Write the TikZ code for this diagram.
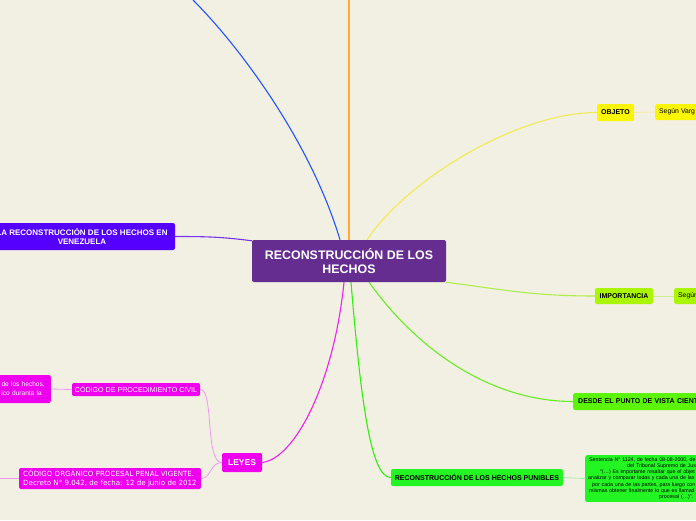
\documentclass[tikz,border=0pt]{standalone}
\usepackage{fontspec}
\setmainfont{Liberation Sans}
\newfontfamily\fuenteVerdana{DejaVu Sans}
\usetikzlibrary{
    backgrounds
}
\definecolor{Fondo}{HTML}{F2EFE3}
\definecolor{Morado}{HTML}{662D91}
\definecolor{Violeta}{HTML}{5500FF}
\definecolor{VioletaLinea}{HTML}{7733EE}
\definecolor{Azul}{HTML}{2255FF}
\definecolor{Naranja}{HTML}{FFA833}
\definecolor{Amarillo}{HTML}{FAF500}
\definecolor{AmarilloLinea}{HTML}{F0EC50}
\definecolor{AmarilloSuave}{HTML}{F2EEA0}
\definecolor{Lima}{HTML}{AAF500}
\definecolor{LimaLinea}{HTML}{AEEE4A}
\definecolor{LimaSuave}{HTML}{CCEE90}
\definecolor{VerdeClaro}{HTML}{5CF50A}
\definecolor{VerdeClaroLinea}{HTML}{66EE22}
\definecolor{Verde}{HTML}{22F522}
\definecolor{VerdeLinea}{HTML}{33EE11}
\definecolor{VerdeSuave}{HTML}{AAEEAA}
\definecolor{Magenta}{HTML}{EE00EE}
\definecolor{MagentaLinea}{HTML}{EE22EE}
\definecolor{MagentaSuave}{HTML}{EE99EE}

\tikzset{
    caja/.style={
        rounded corners=2pt,
        inner sep=0pt,
        align=center,
        text=black,
        font=\bfseries\fontsize{7}{8}\selectfont
    },
    hoja/.style={
        rounded corners=2pt,
        inner xsep=4pt,
        inner ysep=0pt,
        align=left,
        text=black,
        font=\fontsize{6.8}{8}\selectfont
    },
    rama/.style={line width=1.1pt},
    ramita/.style={line width=0.8pt}
}

\begin{document}
\begin{tikzpicture}[x=1pt,y=-1pt]

    \useasboundingbox (0,0) rectangle (696,520);
    \clip (0,0) rectangle (696,520);

    \node[
        caja,
        fill=Morado,
        text=white,
        minimum width=194pt,
        minimum height=42pt,
        font=\bfseries\fontsize{12.4}{14.5}\selectfont
    ] (hechos) at (349,261) {RECONSTRUCCIÓN DE LOS\\HECHOS};

    \node[
        caja,
        fill=Violeta,
        text=white,
        minimum width=186pt,
        minimum height=27pt,
        font=\bfseries\fontsize{8}{9.5}\selectfont
    ] (venezuela) at (82,236.5) {LA RECONSTRUCCIÓN DE LOS HECHOS EN\\VENEZUELA};

    \node[caja, fill=Amarillo, minimum width=37pt, minimum height=17pt] (objeto) at (615.5,112.5) {OBJETO};
    \node[hoja, fill=Amarillo, anchor=west, text width=52pt, minimum height=16pt] (objetoTexto) at (655,112) {Según Varg};

    \node[caja, fill=Lima, minimum width=58pt, minimum height=16pt] (importancia) at (624,296) {IMPORTANCIA};
    \node[hoja, fill=Lima, anchor=west, text width=40pt, minimum height=16pt] (importanciaTexto) at (674,296) {Según};

    \node[
        caja,
        fill=VerdeClaro,
        anchor=west,
        inner xsep=5pt,
        text width=140pt,
        align=left,
        minimum height=17pt
    ] (cientifico) at (573,401.5) {DESDE EL PUNTO DE VISTA CIENT};

    \node[caja, fill=Verde, minimum width=172pt, minimum height=17pt] (punibles) at (477,477.5) {RECONSTRUCCIÓN DE LOS HECHOS PUNIBLES};

    \node[
        hoja,
        fill=Verde,
        anchor=north west,
        inner xsep=3pt,
        inner ysep=2pt,
        text width=150pt,
        minimum height=46pt,
        font=\fontsize{5.3}{6.3}\selectfont
    ] (sentencia) at (585,455) {
        \hspace*{1pt}Sentencia N° 1124, de fecha 08-08-2000, de\\
        \hspace*{39pt}del Tribunal Supremo de Jus\\
        \hspace*{12pt}“(…) Es importante resaltar que el objet\\
        analizar y comparar todas y cada una de las\\
        \hspace*{4pt}por cada una de las partes, para luego con\\
        \hspace*{1pt}mismas obtener finalmente lo que es llamad\\
        \hspace*{71pt}procesal (…)”.
    };

    \node[
        caja,
        fill=Magenta,
        text=white,
        minimum width=40pt,
        minimum height=19pt,
        font=\bfseries\fontsize{8.5}{10}\selectfont
    ] (leyes) at (242,462.5) {LEYES};

    \node[
        caja,
        fill=Magenta,
        text=white,
        minimum width=128pt,
        minimum height=13pt,
        font=\fontsize{7.1}{8}\selectfont
    ] (civil) at (136,389.5) {CÓDIGO DE PROCEDIMIENTO CIVIL};

    \node[
        hoja,
        fill=Magenta,
        text=white,
        anchor=east,
        inner xsep=6pt,
        text width=80pt,
        align=right,
        minimum height=28pt,
        font=\fontsize{6.6}{9}\selectfont
    ] (civilTexto) at (51,389) {de los hechos,\\ico durante la\hspace*{3pt}};

    \node[
        caja,
        fill=Magenta,
        text=white,
        minimum width=182pt,
        minimum height=21pt,
        align=left,
        font=\fuenteVerdana\fontsize{7.1}{9}\selectfont
    ] (organico) at (110,478.5) {CÓDIGO ORGÁNICO PROCESAL PENAL VIGENTE.\\Decreto N° 9.042, de fecha: 12 de junio de 2012};

    \coordinate (bordeAzul) at (193,0);
    \coordinate (bordeNaranja) at (349,0);
    \coordinate (bordeRosa) at (0,478.5);

    \begin{scope}[on background layer]
        \fill[Fondo] (0,0) rectangle (696,520);

        \draw[rama, Azul] ([xshift=-9pt]hechos.north) .. controls +(-30,-100) and +(45,45) .. (bordeAzul);
        \draw[rama, Naranja] (hechos.north) -- (bordeNaranja);
        \draw[rama, VioletaLinea] ([yshift=-1pt]hechos.north west) .. controls +(-30,-4) and +(30,0) .. (venezuela.east);
        \draw[rama, AmarilloLinea] ([xshift=18pt]hechos.north) .. controls +(40,-60) and +(-80,0) .. (objeto.west);
        \draw[rama, LimaLinea] (hechos.south east) .. controls +(60,8) and +(-60,0) .. (importancia.west);
        \draw[rama, VerdeClaroLinea] ([xshift=20pt]hechos.south) .. controls +(50,70) and +(-80,0) .. (cientifico.west);
        \draw[rama, VerdeLinea] ([xshift=2pt]hechos.south) .. controls +(10,120) and +(-20,0) .. (punibles.west);
        \draw[rama, MagentaLinea] ([xshift=-5pt]hechos.south) .. controls +(-10,100) and +(33,-4) .. (leyes.east);

        \draw[ramita, AmarilloSuave] (objeto.east) -- (objetoTexto.west);
        \draw[ramita, LimaSuave] (importancia.east) -- (importanciaTexto.west);
        \draw[ramita, VerdeSuave] (punibles.east) -- (sentencia.west);
        \draw[ramita, MagentaSuave] (leyes.west) .. controls +(-17,0) and +(14,0) .. (civil.east);
        \draw[ramita, MagentaSuave] (leyes.west) .. controls +(-12,0) and +(10,0) .. (organico.east);
        \draw[ramita, MagentaSuave] (civilTexto.east) -- (civil.west);
        \draw[ramita, MagentaSuave] (organico.west) -- (bordeRosa);
    \end{scope}

\end{tikzpicture}
\end{document}
